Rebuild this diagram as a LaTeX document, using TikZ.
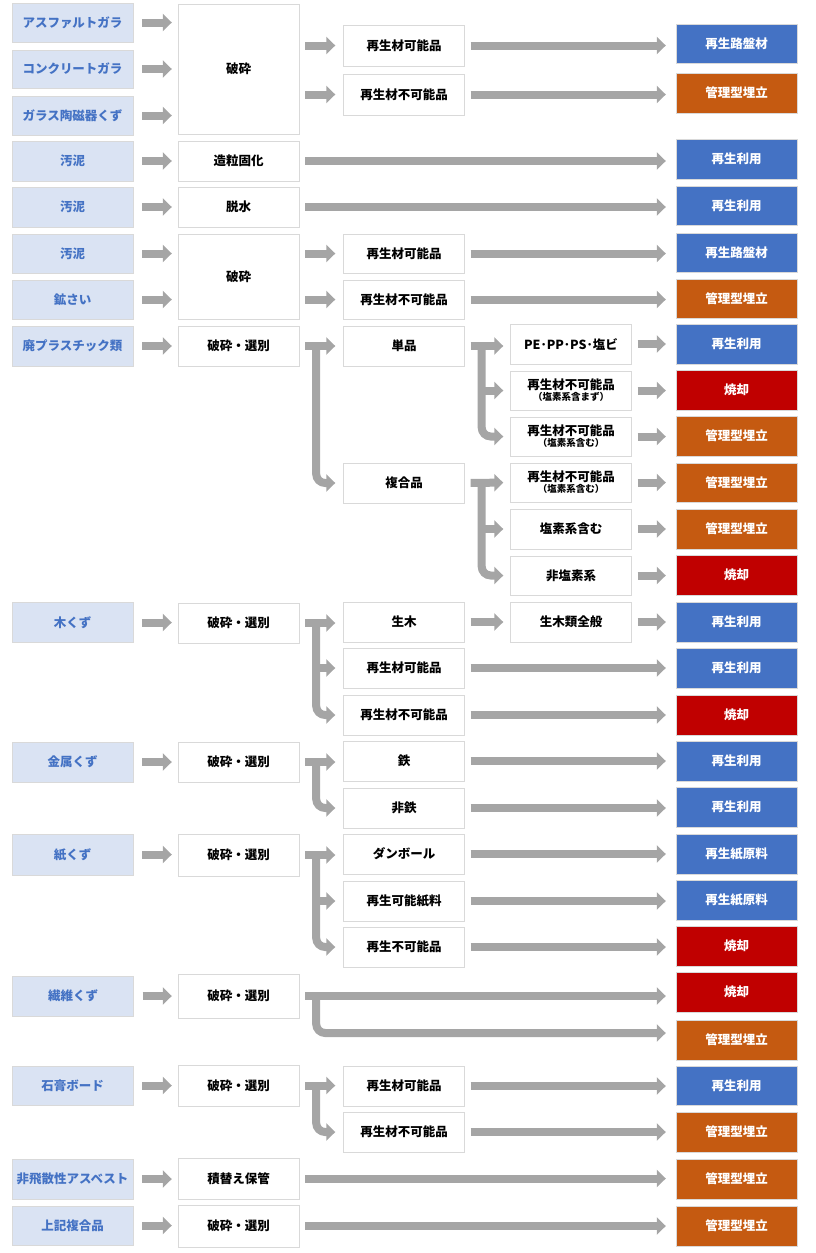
\documentclass[tikz,border=0pt]{standalone}
\usepackage{fontspec}
\setmainfont{Noto Sans CJK JP}
\usetikzlibrary{arrows.meta,calc}
\definecolor{SourceBlue}{HTML}{4472C4}
\definecolor{SourceFill}{HTML}{DAE3F3}
\definecolor{ReuseBlue}{HTML}{4472C4}
\definecolor{LandfillOrange}{HTML}{C55A11}
\definecolor{BurnRed}{HTML}{C00000}
\definecolor{FlowGray}{HTML}{A5A5A5}
\definecolor{BoxLine}{HTML}{D9D9D9}

\tikzset{
  cell/.style={minimum width=121pt,minimum height=40pt,inner sep=1pt,align=center,
    font=\fontsize{12.5}{14}\selectfont\bfseries},
  srcbox/.style={cell,draw=BoxLine,fill=SourceFill,text=SourceBlue},
  stepbox/.style={cell,draw=BoxLine,fill=white},
  outbox/.style={cell,draw=white!85!black,text=white},
  reuse/.style={outbox,fill=ReuseBlue},
  landfill/.style={outbox,fill=LandfillOrange},
  burn/.style={outbox,fill=BurnRed},
  flow/.style={line width=8pt,draw=FlowGray,-{Triangle[length=9pt,width=17pt]},
    shorten <=6pt,shorten >=10pt},
  feed/.style={flow,shorten <=9pt,shorten >=6pt},
  branch/.style={flow,shorten <=0pt,rounded corners=9pt},
}
\newcommand{\subnote}[1]{\\[-3pt]{\fontsize{9.5}{11}\selectfont #1}}

\begin{document}
\begin{tikzpicture}[x=1pt,y=-1pt]
  \useasboundingbox (0,0) rectangle (815,1253);

  % sources
  \node[srcbox,minimum height=39pt] (a1) at (72.5,22.5) {アスファルトガラ};
  \node[srcbox,minimum height=38pt] (a2) at (72.5,69) {コンクリートガラ};
  \node[srcbox,minimum height=39pt] (a3) at (72.5,115.5) {ガラス陶磁器くず};
  \node[srcbox] (a4) at (72.5,161) {汚泥};
  \node[srcbox] (a5) at (72.5,207) {汚泥};
  \node[srcbox,minimum height=39pt] (a6) at (72.5,253.5) {汚泥};
  \node[srcbox,minimum height=39pt] (a7) at (72.5,299.5) {鉱さい};
  \node[srcbox] (a8) at (72.5,346) {廃プラスチック類};
  \node[srcbox] (a9) at (72.5,622.5) {木くず};
  \node[srcbox] (a10) at (72.5,762) {金属くず};
  \node[srcbox,minimum height=41pt] (a11) at (72.5,854.5) {紙くず};
  \node[srcbox] (a12) at (73,996) {繊維くず};
  \node[srcbox,minimum height=39pt] (a13) at (72.5,1085.5) {石膏ボード};
  \node[srcbox] (a14) at (72.5,1179) {非飛散性アスベスト};
  \node[srcbox,minimum height=39pt] (a15) at (72.5,1225.5) {上記複合品};

  % first treatment
  \node[stepbox,minimum height=130pt] (b1) at (238.5,69) {破砕};
  \node[stepbox] (b2) at (238.5,161) {造粒固化};
  \node[stepbox] (b3) at (238.5,207) {脱水};
  \node[stepbox,minimum height=85pt] (b4) at (238.5,276.5) {破砕};
  \node[stepbox] (b5) at (238.5,346) {破砕・選別};
  \node[stepbox] (b6) at (238.5,623) {破砕・選別};
  \node[stepbox] (b7) at (238.5,762) {破砕・選別};
  \node[stepbox,minimum height=42pt] (b8) at (238.5,855) {破砕・選別};
  \node[stepbox,minimum height=44pt] (b9) at (238.5,996) {破砕・選別};
  \node[stepbox,minimum height=41pt] (b10) at (238.5,1085.5) {破砕・選別};
  \node[stepbox,minimum height=41pt] (b11) at (238.5,1178.5) {積替え保管};
  \node[stepbox,minimum height=42pt] (b12) at (238.5,1226) {破砕・選別};

  % sorted materials
  \node[stepbox,minimum height=41pt] (c1) at (404,45.5) {再生材可能品};
  \node[stepbox,minimum height=41pt] (c2) at (404,94.5) {再生材不可能品};
  \node[stepbox,minimum height=39pt] (c3) at (404,253.5) {再生材可能品};
  \node[stepbox,minimum height=39pt] (c4) at (404,299.5) {再生材不可能品};
  \node[stepbox] (c5) at (404,346) {単品};
  \node[stepbox] (c6) at (404,483) {複合品};
  \node[stepbox] (c7) at (404,622) {生木};
  \node[stepbox] (c8) at (404,668) {再生材可能品};
  \node[stepbox] (c9) at (404,715) {再生材不可能品};
  \node[stepbox] (c10) at (404,761) {鉄};
  \node[stepbox] (c11) at (404,808) {非鉄};
  \node[stepbox] (c12) at (404,854) {ダンボール};
  \node[stepbox] (c13) at (404,901) {再生可能紙料};
  \node[stepbox] (c14) at (404,947) {再生不可能品};
  \node[stepbox] (c15) at (404,1086) {再生材可能品};
  \node[stepbox] (c16) at (404,1132) {再生材不可能品};

  % plastic and wood details
  \node[stepbox] (d1) at (571,344) {PE･PP･PS･塩ビ};
  \node[stepbox,minimum height=39pt] (d2) at (571,390.5) {再生材不可能品\subnote{（塩素系含まず）}};
  \node[stepbox,minimum height=39pt] (d3) at (571,436.5) {再生材不可能品\subnote{（塩素系含む）}};
  \node[stepbox,minimum height=39pt] (d4) at (571,482.5) {再生材不可能品\subnote{（塩素系含む）}};
  \node[stepbox] (d5) at (571,529) {塩素系含む};
  \node[stepbox,minimum height=39pt] (d6) at (571,575.5) {非塩素系};
  \node[stepbox] (d7) at (571,622) {生木類全般};

  % final treatment
  \node[reuse,minimum height=39pt] (e1) at (736.5,43.5) {再生路盤材};
  \node[landfill] (e2) at (736.5,93) {管理型埋立};
  \node[reuse] (e3) at (736.5,159) {再生利用};
  \node[reuse,minimum height=39pt] (e4) at (736.5,205.5) {再生利用};
  \node[reuse,minimum height=39pt] (e5) at (736.5,252.5) {再生路盤材};
  \node[landfill,minimum height=39pt] (e6) at (736.5,298.5) {管理型埋立};
  \node[reuse] (e7) at (736.5,344) {再生利用};
  \node[burn] (e8) at (736.5,390) {焼却};
  \node[landfill] (e9) at (736.5,436) {管理型埋立};
  \node[landfill,minimum height=39pt] (e10) at (736.5,482.5) {管理型埋立};
  \node[landfill] (e11) at (736.5,529) {管理型埋立};
  \node[burn] (e12) at (736.5,575) {焼却};
  \node[reuse] (e13) at (736.5,622) {再生利用};
  \node[reuse] (e14) at (736.5,668) {再生利用};
  \node[burn] (e15) at (736.5,715) {焼却};
  \node[reuse] (e16) at (736.5,761) {再生利用};
  \node[reuse] (e17) at (736.5,807) {再生利用};
  \node[reuse] (e18) at (736.5,854) {再生紙原料};
  \node[reuse] (e19) at (736.5,900) {再生紙原料};
  \node[burn] (e20) at (736.5,946) {焼却};
  \node[burn] (e21) at (736.5,992) {焼却};
  \node[landfill] (e22) at (736.5,1040) {管理型埋立};
  \node[reuse,minimum height=39pt] (e23) at (736.5,1085.5) {再生利用};
  \node[landfill] (e24) at (736.5,1132) {管理型埋立};
  \node[landfill] (e25) at (736.5,1179) {管理型埋立};
  \node[landfill] (e26) at (736.5,1226) {管理型埋立};

  % sources into first treatment
  \foreach \s/\t in {a1/b1,a2/b1,a3/b1,a4/b2,a5/b3,a6/b4,a7/b4,a8/b5,a9/b6,
      a10/b7,a11/b8,a12/b9,a13/b10,a14/b11,a15/b12}
    \draw[feed] (\s.east) -- (\s.east -| \t.west);

  % straight flows
  \foreach \s/\t in {b1/c1,b1/c2,b4/c3,b4/c4}
    \draw[flow,shorten >=8pt] (\t.west -| \s.east) -- (\t.west);
  \foreach \s/\t in {c1/e1,c2/e2,c3/e5,c4/e6,c8/e14,c9/e15,c10/e16,c11/e17,
      c12/e18,c13/e19,c14/e20,c15/e23,c16/e24,b2/e3,b3/e4,b11/e25,b12/e26,b9/e21,
      d1/e7,d2/e8,d3/e9,d4/e10,d5/e11,d6/e12,d7/e13}
    \draw[flow] (\s.east) -- (\s.east -| \t.west);
  \draw[flow,shorten >=7pt] (c7) -- (d7);

  % branching flows
  \coordinate (pjoin) at ($(b5.east)+(17,0)$);
  \draw[flow,shorten >=8pt] (b5) -- (c5);
  \draw[branch,shorten >=8pt] (pjoin) |- (c6.west);
  \coordinate (sjoin) at ($(c5.east)+(17,0)$);
  \draw[flow,shorten >=7pt] (c5.east) -- (c5.east -| d1.west);
  \draw[branch,shorten >=7pt] (sjoin) |- (d3.west);
  \draw[flow,shorten <=0pt,shorten >=7pt] (sjoin |- d2.west) -- (d2.west);
  \coordinate (cjoin) at ($(c6.east)+(17,0)$);
  \draw[flow,shorten >=7pt] (c6) -- (d4);
  \draw[branch,shorten >=7pt] (cjoin) |- (d6.west);
  \draw[flow,shorten <=0pt,shorten >=7pt] (cjoin |- d5.west) -- (d5.west);

  \coordinate (wjoin) at ($(b6.east)+(17,0)$);
  \draw[flow,shorten >=8pt] (b6.east) -- (b6.east -| c7.west);
  \draw[branch,shorten >=8pt] (wjoin) |- (c9.west);
  \draw[flow,shorten <=0pt,shorten >=8pt] (wjoin |- c8.west) -- (c8.west);

  \coordinate (mjoin) at ($(b7.east)+(17,0)$);
  \draw[flow,shorten >=8pt] (b7.east) -- (b7.east -| c10.west);
  \draw[branch,shorten >=8pt] (mjoin) |- (c11.west);

  \coordinate (kjoin) at ($(b8.east)+(17,0)$);
  \draw[flow,shorten >=8pt] (b8.east) -- (b8.east -| c12.west);
  \draw[branch,shorten >=8pt] (kjoin) |- (c14.west);
  \draw[flow,shorten <=0pt,shorten >=8pt] (kjoin |- c13.west) -- (c13.west);

  \coordinate (fjoin) at ($(b9.east)+(17,0)$);
  \coordinate (flow) at ($(e22.west)+(0,-7)$);
  \draw[branch] (fjoin) |- (flow);

  \coordinate (gjoin) at ($(b10.east)+(17,0)$);
  \draw[flow,shorten >=8pt] (b10.east) -- (b10.east -| c15.west);
  \draw[branch,shorten >=8pt] (gjoin) |- (c16.west);
\end{tikzpicture}
\end{document}
